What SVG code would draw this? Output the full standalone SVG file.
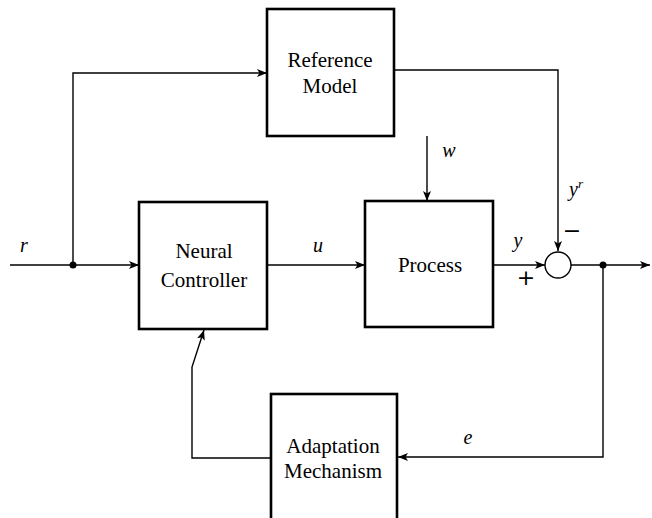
<svg xmlns="http://www.w3.org/2000/svg" width="652" height="518" viewBox="0 0 652 518">
  <style>
    .box { fill: #fff; stroke: #000; stroke-width: 2.6; }
    .wire { fill: none; stroke: #000; stroke-width: 1.4; }
    .txt { font-family: "Liberation Serif", "Times New Roman", Times, Tinos, "Noto Serif", "DejaVu Serif", Georgia, serif; }
    .lbl { font-size: 21px; fill: #000; text-anchor: middle; }
    .var { font-size: 20px; font-style: italic; fill: #000; text-anchor: middle; }
    .sign { font-family: "DejaVu Sans", sans-serif; font-size: 22px; fill: #000; text-anchor: middle; }
  </style>
  <defs>
    <marker id="arrow" viewBox="0 0 10 8" refX="10" refY="4" markerWidth="10" markerHeight="8" markerUnits="userSpaceOnUse" orient="auto">
      <path d="M0,0 L10,4 L0,8 L2.5,4 z" fill="#000"/>
    </marker>
  </defs>

  <rect width="652" height="518" fill="#fff"/>

  <!-- connectors -->
  <g id="connectors">
    <!-- r input into the neural controller -->
    <path class="wire" d="M10,265 L139,265" marker-end="url(#arrow)"/>
    <circle cx="73" cy="265" r="3.5" fill="#000"/>
    <!-- branch of r to the reference model -->
    <path class="wire" d="M73,265 L73,73 L267,73" marker-end="url(#arrow)"/>
    <!-- reference model output y^r down to the summing junction -->
    <path class="wire" d="M394,70 L558,70 L558,251" marker-end="url(#arrow)"/>
    <!-- disturbance w -->
    <path class="wire" d="M427,136 L427,201" marker-end="url(#arrow)"/>
    <!-- control signal u -->
    <path class="wire" d="M267,265 L365,265" marker-end="url(#arrow)"/>
    <!-- process output y -->
    <path class="wire" d="M493,265 L545,265" marker-end="url(#arrow)"/>
    <!-- error output -->
    <path class="wire" d="M571,265 L650,265" marker-end="url(#arrow)"/>
    <circle cx="603" cy="265" r="3.5" fill="#000"/>
    <!-- error e fed back to the adaptation mechanism -->
    <path class="wire" d="M603,265 L603,457 L398,457" marker-end="url(#arrow)"/>
    <!-- adaptation output to the neural controller -->
    <path class="wire" d="M271,458 L192,458 L192,367 L204,330" marker-end="url(#arrow)"/>
  </g>

  <!-- summing junction -->
  <g id="sum">
    <circle cx="558" cy="265" r="13" fill="#fff" stroke="#000" stroke-width="1.4"/>
    <text class="sign" x="526" y="285">+</text>
    <text class="sign" x="572" y="238">−</text>
  </g>

  <g id="reference-model" class="txt">
    <rect class="box" x="267" y="9" width="127" height="127"/>
    <text class="lbl" x="330" y="67">Reference</text>
    <text class="lbl" x="330" y="93">Model</text>
  </g>

  <g id="neural-controller" class="txt">
    <rect class="box" x="139" y="202" width="128" height="127"/>
    <text class="lbl" x="204" y="258">Neural</text>
    <text class="lbl" x="204" y="287">Controller</text>
  </g>

  <g id="process" class="txt">
    <rect class="box" x="365" y="201" width="128" height="126"/>
    <text class="lbl" x="430" y="272">Process</text>
  </g>

  <g id="adaptation-mechanism" class="txt">
    <rect class="box" x="271" y="394" width="126" height="140"/>
    <text class="lbl" x="333" y="453">Adaptation</text>
    <text class="lbl" x="333" y="478">Mechanism</text>
  </g>

  <!-- signal labels -->
  <g id="labels" class="txt">
    <text class="var" x="24" y="252">r</text>
    <text class="var" x="318" y="252">u</text>
    <text class="var" x="449" y="157">w</text>
    <text class="var" x="518" y="247">y</text>
    <text class="var" x="576" y="196">y<tspan font-size="13" dy="-8">r</tspan></text>
    <text class="var" x="468" y="444">e</text>
  </g>
</svg>
